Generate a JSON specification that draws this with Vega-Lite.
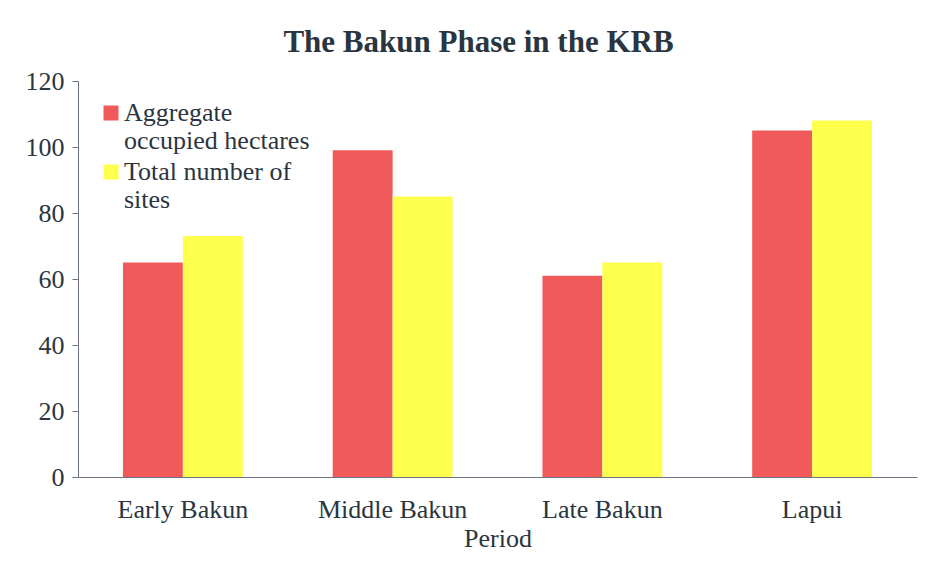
{
  "$schema": "https://vega.github.io/schema/vega-lite/v6.json",
  "width": 839,
  "height": 396,
  "autosize": {"type": "none"},
  "padding": {"left": 78, "top": 81, "right": 22, "bottom": 84},
  "background": "white",
  "title": {
    "text": "The Bakun Phase in the KRB",
    "font": "Liberation Serif",
    "fontSize": 31,
    "fontWeight": "bold",
    "color": "#2b3540",
    "anchor": "middle",
    "dx": -19,
    "offset": 9
  },
  "data": {
    "values": [
      {"period": "Early Bakun", "series": "Aggregate occupied hectares", "value": 65},
      {"period": "Early Bakun", "series": "Total number of sites", "value": 73},
      {"period": "Middle Bakun", "series": "Aggregate occupied hectares", "value": 99},
      {"period": "Middle Bakun", "series": "Total number of sites", "value": 85},
      {"period": "Late Bakun", "series": "Aggregate occupied hectares", "value": 61},
      {"period": "Late Bakun", "series": "Total number of sites", "value": 65},
      {"period": "Lapui", "series": "Aggregate occupied hectares", "value": 105},
      {"period": "Lapui", "series": "Total number of sites", "value": 108}
    ]
  },
  "mark": {"type": "bar"},
  "encoding": {
    "x": {
      "field": "period",
      "type": "nominal",
      "sort": ["Early Bakun", "Middle Bakun", "Late Bakun", "Lapui"],
      "title": "Period",
      "scale": {"paddingInner": 0.4286, "paddingOuter": 0.2143},
      "axis": {
        "labelAngle": 0,
        "labelFont": "Liberation Serif",
        "labelFontSize": 26,
        "labelColor": "#2b3540",
        "labelPadding": 19,
        "ticks": false,
        "domainColor": "#6a7380",
        "titleFont": "Liberation Serif",
        "titleFontSize": 26,
        "titleFontWeight": "normal",
        "titleColor": "#2b3540",
        "titlePadding": 3
      }
    },
    "xOffset": {"field": "series", "type": "nominal"},
    "y": {
      "field": "value",
      "type": "quantitative",
      "title": null,
      "scale": {"domain": [0, 120]},
      "axis": {
        "values": [0, 20, 40, 60, 80, 100, 120],
        "grid": false,
        "labelFont": "Liberation Serif",
        "labelFontSize": 26,
        "labelColor": "#2b3540",
        "labelPadding": 8,
        "tickSize": 6,
        "tickColor": "#6a7380",
        "domainColor": "#6a7380"
      }
    },
    "color": {
      "field": "series",
      "type": "nominal",
      "scale": {
        "domain": ["Aggregate occupied hectares", "Total number of sites"],
        "range": ["#f05a5a", "#ffff4d"]
      },
      "legend": {
        "title": null,
        "orient": "none",
        "legendX": 20,
        "legendY": 19,
        "symbolType": "square",
        "symbolSize": 225,
        "symbolStrokeWidth": 0,
        "labelFont": "Liberation Serif",
        "labelFontSize": 26,
        "labelColor": "#2b3540",
        "labelLimit": 300,
        "labelOffset": 0,
        "rowPadding": 5,
        "labelExpr": "datum.label == 'Aggregate occupied hectares' ? ['Aggregate', 'occupied hectares'] : ['Total number of', 'sites']"
      }
    }
  },
  "config": {
    "view": {"stroke": null}
  }
}
